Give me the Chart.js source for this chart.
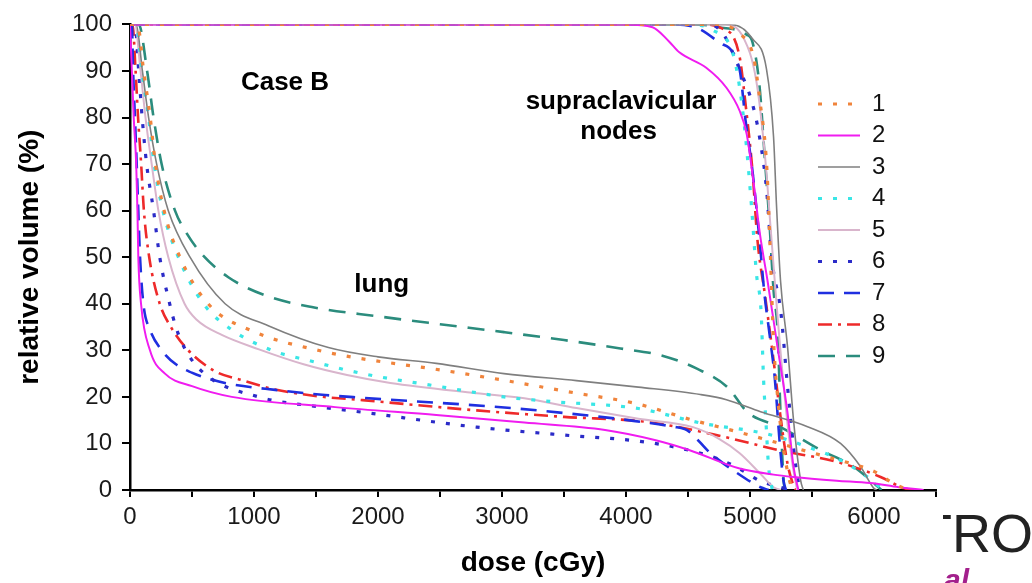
<!DOCTYPE html>
<html>
<head>
<meta charset="utf-8">
<script src="https://cdn.jsdelivr.net/npm/chart.js@4.4.1/dist/chart.umd.min.js"></script>
<style>
  html, body { margin: 0; padding: 0; background: #ffffff; }
  #wrap { width: 1032px; height: 583px; position: relative; }
</style>
</head>
<body>
<div id="wrap"><canvas id="c" width="1032" height="583"></canvas></div>
<script>
// ---------- Data: [dose (cGy), relative volume (%)] ----------
// Lung DVH curves
const lung1 = [[0,100],[60,100],[110,90],[163,80],[205,70],[275,60],[403,50],[630,40],[1000,34],[1517,30],[1800,28.5],[2500,25.8],[3073,23.3],[3600,20.8],[4076,18.6],[4540,15],[4900,12.5],[5200,10.3],[5500,8],[5800,5.8],[6008,3.9],[6150,1.5],[6250,0.3],[6300,0]];
const lung2 = [[0,100],[15,90],[30,80],[50,70],[60,60],[67,50],[89,40],[161,30],[282,25],[500,22.3],[821,20],[1655,17.8],[2470,16.1],[3180,14.5],[3831,12.9],[4240,10.7],[4508,8.6],[4917,4.6],[5190,3.3],[5350,2.8],[5700,2],[5970,1.5],[6200,0.6],[6400,0]];
const lung3 = [[0,100],[50,100],[100,90],[150,80],[215,70],[309,60],[484,50],[767,40],[1115,35.3],[1600,30.6],[2000,28.6],[2470,27.2],[3016,25],[3600,23.5],[4100,22.1],[4600,20.5],[4810,19.4],[5085,16.8],[5464,13.6],[5730,10],[5892,5],[5997,0.4],[6020,0]];
const lung4 = [[0,100],[50,100],[95,90],[150,80],[195,70],[265,60],[390,50],[592,40],[815,34.5],[1143,30],[1443,27.8],[1875,25],[2500,22.2],[3016,20],[3400,19],[4100,17.5],[4600,14.4],[5141,12],[5460,9.3],[5730,6.4],[5948,2.8],[6060,0.4],[6100,0]];
const lung5 = [[0,100],[40,100],[85,90],[125,80],[175,70],[229,60],[309,50],[440,40],[540,36.5],[740,33.3],[1040,30.2],[1400,27],[1750,24.7],[2100,23],[2796,20.8],[3180,19.7],[3600,17.6],[4100,15.3],[4540,13.5],[4750,11],[4917,7.9],[5080,3.6],[5190,0.6],[5250,0]];
const lung6 = [[0,100],[40,100],[70,90],[98,80],[134,70],[190,60],[240,50],[320,40],[370,35],[450,30],[600,25],[1036,20],[1549,17.8],[1875,16.7],[2796,13.5],[3500,11.8],[4100,10.5],[4378,9.3],[4700,7.1],[4900,4.8],[5077,2],[5270,0.4],[5320,0]];
const lung7 = [[0,100],[15,100],[25,90],[40,80],[54,70],[67,60],[81,50],[108,40],[160,34.5],[256,30],[370,27],[498,25.2],[631,23.9],[800,22.8],[1170,21.5],[1574,20.4],[1875,19.8],[3073,17.6],[3831,15.6],[4076,14.8],[4378,13.6],[4495,12.8],[4681,7.9],[4899,3.6],[5085,0.6],[5150,0]];
const lung8 = [[0,100],[20,100],[45,90],[65,80],[90,70],[112,60],[155,50],[240,40],[330,35],[470,30],[686,25.5],[901,23.6],[1170,21.6],[1493,20.2],[1875,19.3],[2796,17.1],[3500,15.7],[4173,14.6],[4762,11.6],[5222,8.6],[5706,6],[6053,2.8],[6239,0.4],[6320,0]];
const lung9 = [[0,100],[70,100],[138,90],[190,80],[255,70],[363,60],[460,55],[578,50.7],[793,45.7],[1090,41.8],[1466,39.3],[2000,37.3],[2500,35.6],[3016,33.9],[3500,32.2],[3955,30.4],[4300,28.8],[4576,26],[4818,22.1],[4980,16.7],[5246,13.5],[5569,8.6],[5835,5],[5997,1.5],[6060,0]];

// Supraclavicular nodes DVH curves
const node1 = [[0,100],[4700,100],[4917,98],[5030,92.8],[5080,83.6],[5136,69],[5165,50],[5190,32],[5230,18],[5270,9],[5330,1],[5360,0]];
const node2 = [[0,100],[4000,100],[4214,99.4],[4345,96.4],[4430,94],[4647,90.7],[4810,86.4],[4917,81.4],[4973,76.5],[5030,65.8],[5080,55],[5141,45],[5222,30.7],[5303,16.5],[5351,5],[5390,0]];
const node3 = [[0,100],[4850,100],[5020,96.9],[5133,90.4],[5190,75.8],[5214,61],[5246,45],[5303,30.7],[5351,15],[5408,2.1],[5430,0]];
const node4 = [[0,100],[4500,100],[4689,98.9],[4859,94],[4915,86.7],[4964,75.8],[5012,61],[5052,46.5],[5090,38],[5109,24],[5130,14],[5150,5],[5180,0]];
const node5 = [[0,100],[4800,100],[4950,97],[5050,88],[5120,72],[5170,55],[5220,38],[5280,20],[5340,6],[5380,0]];
const node6 = [[0,100],[4650,100],[4778,98.2],[4915,90.4],[5020,82.9],[5077,75.8],[5133,64.7],[5174,50.2],[5250,37.9],[5300,23],[5340,12],[5370,5],[5400,0.5],[5410,0]];
const node7 = [[0,100],[4400,100],[4585,99.1],[4746,96.2],[4915,90.4],[4964,79.4],[5020,68.5],[5077,53.7],[5117,42],[5160,33],[5200,24],[5240,10],[5270,2],[5290,0]];
const node8 = [[0,100],[4600,100],[4778,99.1],[4915,93.2],[4964,82.9],[5020,68.5],[5060,53.7],[5120,42],[5180,30],[5240,17],[5300,6],[5350,1],[5370,0]];
const node9 = [[0,100],[4550,100],[4746,99.4],[4972,97.8],[5020,96.2],[5077,86.7],[5117,72.1],[5157,57.4],[5190,42.9],[5222,34.3],[5246,16.5],[5271,2],[5285,0]];

const seriesNames = ['1','2','3','4','5','6','7','8','9'];
const lungSeries = [lung1, lung2, lung3, lung4, lung5, lung6, lung7, lung8, lung9];
const nodeSeries = [node1, node2, node3, node4, node5, node6, node7, node8, node9];

// Axis ticks
const xMin = 0, xMax = 6500, xStep = 500, xLabelEvery = 1000;
const yMin = 0, yMax = 100, yStep = 10;

// Text annotations [text, dose, volume]
const notes = [['Case B', 1250, 87.5], ['supraclavicular', 3960, 83.3], ['nodes', 3940, 76.9], ['lung', 2030, 44.1]];

// ---------- Styles ----------
const styles = [
  { color: '#f0843c', dash: [4, 11], width: 3.2 },
  { color: '#f01cf0', dash: [], width: 2 },
  { color: '#7f7f7f', dash: [], width: 1.6 },
  { color: '#3ae6e6', dash: [4, 11], width: 3.2 },
  { color: '#d9b5cc', dash: [], width: 2 },
  { color: '#2b2bc8', dash: [4, 11], width: 3.2 },
  { color: '#1f2fe0', dash: [16, 10], width: 2.6 },
  { color: '#ee2a2a', dash: [14, 6, 3, 6], width: 2.6 },
  { color: '#2b8c7d', dash: [17, 11], width: 2.6 }
];

const toXY = arr => arr.map(p => ({ x: p[0], y: p[1] }));
const datasets = [];
seriesNames.forEach((name, i) => {
  const st = styles[i];
  [lungSeries[i], nodeSeries[i]].forEach((curve) => {
    datasets.push({
      label: name,
      data: toXY(curve),
      borderColor: st.color,
      backgroundColor: st.color,
      borderDash: st.dash,
      borderWidth: st.width,
      pointRadius: 0,
      fill: false,
      cubicInterpolationMode: 'monotone'
    });
  });
});

const FONT = "'Liberation Sans', Arial, sans-serif";
Chart.defaults.font.family = FONT;
Chart.defaults.color = '#1a1a1a';

const decorPlugin = {
  id: 'decor',
  afterDatasetsDraw(chart) {
    const ctx = chart.ctx;
    const xs = chart.scales.x, ys = chart.scales.y;
    ctx.save();
    // annotations
    ctx.fillStyle = '#000';
    ctx.font = "bold 26px " + FONT;
    ctx.textAlign = 'center';
    ctx.textBaseline = 'middle';
    notes.forEach(n => ctx.fillText(n[0], xs.getPixelForValue(n[1]), ys.getPixelForValue(n[2])));
    // legend
    const lx0 = 818, lx1 = 860, ltx = 872, ly0 = 104, lstep = 31.5;
    ctx.textAlign = 'left';
    ctx.font = "24px " + FONT;
    seriesNames.forEach((name, i) => {
      const st = styles[i];
      const y = ly0 + i * lstep;
      ctx.beginPath();
      ctx.setLineDash(st.dash);
      ctx.lineDashOffset = 0;
      ctx.strokeStyle = st.color;
      ctx.lineWidth = st.width;
      ctx.moveTo(lx0, y);
      ctx.lineTo(lx1, y);
      ctx.stroke();
      ctx.setLineDash([]);
      ctx.fillStyle = '#111';
      ctx.fillText(name, ltx, y);
    });
    ctx.restore();
  },
  afterDraw(chart) {
    const ctx = chart.ctx;
    ctx.save();
    ctx.beginPath();
    ctx.rect(943, 495, 89, 88);
    ctx.clip();
    ctx.fillStyle = '#222';
    ctx.font = "300 54px " + FONT;
    ctx.textAlign = 'left';
    ctx.textBaseline = 'alphabetic';
    ctx.fillText('TRO', 919, 552);
    ctx.fillStyle = '#a3208c';
    ctx.font = "italic bold 30px " + FONT;
    ctx.fillText('al', 944, 590);
    ctx.restore();
  }
};

new Chart(document.getElementById('c'), {
  type: 'line',
  data: { datasets },
  options: {
    responsive: false,
    animation: false,
    events: [],
    layout: { padding: { left: 8, top: 23, right: 96, bottom: 0 } },
    plugins: { legend: { display: false }, tooltip: { enabled: false } },
    scales: {
      x: {
        type: 'linear',
        min: xMin, max: xMax,
        afterFit: s => { s.height = 93; },
        border: { display: true, color: '#000', width: 2.5 },
        grid: { drawOnChartArea: false, drawTicks: true, tickLength: 7, color: '#000', lineWidth: 2 },
        ticks: {
          stepSize: xStep, autoSkip: false, maxRotation: 0, padding: 6,
          color: '#1a1a1a', font: { size: 24 },
          callback: v => (v % xLabelEvery === 0 ? String(v) : '')
        },
        title: { display: true, text: 'dose (cGy)', color: '#000', font: { size: 28, weight: 'bold' }, padding: { top: 0, bottom: 3 } }
      },
      y: {
        type: 'linear',
        min: yMin, max: yMax,
        afterFit: s => { s.width = 122; },
        border: { display: true, color: '#000', width: 2.5 },
        grid: { drawOnChartArea: false, drawTicks: true, tickLength: 8, color: '#000', lineWidth: 2 },
        ticks: { stepSize: yStep, padding: 10, color: '#1a1a1a', font: { size: 24 } },
        title: { display: true, text: 'relative volume (%)', color: '#000', font: { size: 28, weight: 'bold' }, padding: { top: 5, bottom: 0 } }
      }
    }
  },
  plugins: [decorPlugin]
});
</script>
</body>
</html>
